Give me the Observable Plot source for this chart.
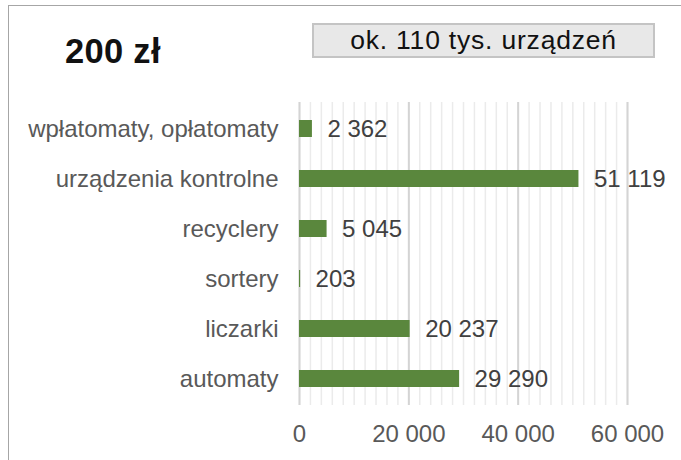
<!DOCTYPE html>
<html>
<head>
<meta charset="utf-8">
<script src="https://cdn.jsdelivr.net/npm/d3@7"></script>
<script src="https://cdn.jsdelivr.net/npm/@observablehq/plot@0.6"></script>
<style>
  html, body { margin: 0; padding: 0; background: #fff; }
  body { width: 681px; height: 460px; position: relative; overflow: hidden; font-family: "Liberation Sans", Arial, sans-serif; }
  #frame { position: absolute; left: 8px; top: 5px; width: 760px; height: 560px; border: 1.5px solid #a6a6a6; box-sizing: border-box; }
  #title { position: absolute; left: 65px; top: 34px; font-size: 34.5px; font-weight: bold; line-height: 1; color: #111; letter-spacing: 0.3px; white-space: nowrap; }
  #badge { position: absolute; left: 312px; top: 23px; width: 343px; height: 35px; box-sizing: border-box; border: 2px solid #c4c4c4; background: #e8e8e8; text-align: center; font-size: 26.5px; line-height: 30px; color: #111; letter-spacing: 0.8px; white-space: nowrap; }
  #chart { position: absolute; left: 0; top: 0; }
</style>
</head>
<body>
<div id="frame"></div>
<div id="title">200 zł</div>
<div id="badge">ok. 110 tys. urządzeń</div>
<div id="chart"></div>
<script>
const categories = ["wpłatomaty, opłatomaty", "urządzenia kontrolne", "recyclery", "sortery", "liczarki", "automaty"];
const values = [2362, 51119, 5045, 203, 20237, 29290];
const valueLabels = ["2 362", "51 119", "5 045", "203", "20 237", "29 290"];
const xTicks = [0, 20000, 40000, 60000];
const xTickLabels = ["0", "20 000", "40 000", "60 000"];
const minorTicks = d3.range(0, 60001, 2000);

const data = categories.map((c, i) => ({category: c, value: values[i], label: valueLabels[i]}));
const tickLabel = new Map(xTicks.map((t, i) => [t, xTickLabels[i]]));

const chart = Plot.plot({
  width: 681,
  height: 460,
  marginLeft: 299,
  marginRight: 54,
  marginTop: 102,
  marginBottom: 55,
  style: {fontFamily: "'Liberation Sans', Arial, sans-serif", fontSize: "24px", background: "transparent", overflow: "visible"},
  x: {domain: [0, 60000]},
  y: {domain: categories, paddingInner: 0.657, paddingOuter: 0.3285},
  marks: [
    Plot.ruleX(minorTicks, {stroke: "#ebebeb", strokeWidth: 1.5}),
    Plot.ruleX(xTicks, {stroke: "#d4d4d4", strokeWidth: 2}),
    Plot.barX(data, {x: "value", y: "category", fill: "#5a873d"}),
    Plot.text(data, {x: "value", y: "category", text: "label", dx: 15, textAnchor: "start", fill: "#404040", fontSize: 24}),
    Plot.axisX({ticks: xTicks, tickFormat: d => tickLabel.get(d), tickSize: 0, tickPadding: 19, fill: "#595959", fontSize: 24, label: null}),
    Plot.axisY({tickSize: 0, tickPadding: 21, fill: "#595959", fontSize: 24, label: null})
  ]
});
document.getElementById("chart").appendChild(chart);
</script>
</body>
</html>
